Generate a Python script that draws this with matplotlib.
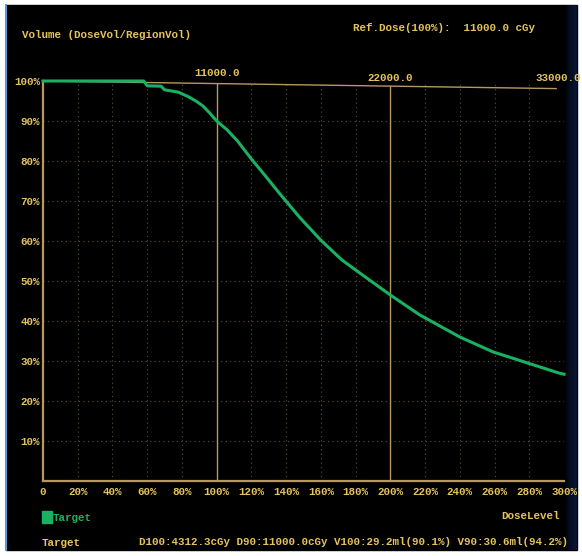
import matplotlib
matplotlib.use('Agg')
import matplotlib.pyplot as plt
from matplotlib.patches import Rectangle

# DVH curve (dose level %, volume %)
dose_level = [0, 58, 60, 68, 70, 78, 80, 84, 88, 92, 96, 100, 106, 112, 120,
              128, 136, 148, 160, 172, 184, 200, 217, 240, 259, 279, 297, 300]
volume = [100, 100, 98.8, 98.7, 97.8, 97.2, 96.8, 96, 95, 93.8, 92, 90, 87.8,
          85, 80.5, 76.3, 72, 65.8, 60.2, 55.3, 51.5, 46.5, 41.5, 36, 32.3,
          29.5, 27, 26.7]

x_ticks = list(range(0, 301, 20))
x_labels = ['0'] + ['{}%'.format(v) for v in x_ticks[1:]]
y_ticks = list(range(10, 101, 10))
y_labels = ['{}%'.format(v) for v in y_ticks]
top_ticks = [100, 200, 300]
top_labels = ['11000.0', '22000.0', '33000.0']

title_left = 'Volume (DoseVol/RegionVol)'
title_right = 'Ref.Dose(100%):  11000.0 cGy'
stats = 'D100:4312.3cGy D90:11000.0cGy V100:29.2ml(90.1%) V90:30.6ml(94.2%)'

W, H = 582, 556
txt = '#e6c35c'
axis_col = '#b89862'
grid_col = '#5e5038'
green = '#19b262'
font = dict(family='Liberation Mono', weight='bold', size=7.8)


def fx(px):
    return px / W


def fy(py):
    return 1 - py / H


fig = plt.figure(figsize=(W / 100, H / 100), dpi=100)
fig.patch.set_facecolor('white')

# black screen panel
bg = fig.add_axes([0, 0, 1, 1])
bg.set_xlim(0, W)
bg.set_ylim(H, 0)
bg.axis('off')
bg.add_patch(Rectangle((6, 5), 571, 545, color='black'))
bg.plot([5.5, 5.5], [5, 550], color='#5b9bd0', lw=1.5)
for i, a in enumerate([0.25, 0.4, 0.55, 0.7, 0.8]):
    bg.add_patch(Rectangle((566 + i * 2.2, 5), 2.2, 545, color='#0a1a40', alpha=a, lw=0))

ax = fig.add_axes([fx(43), fy(481), 521 / W, 400 / H])
ax.set_facecolor('none')
ax.set_xlim(0, 300)
ax.set_ylim(0, 100)

for s in ['top', 'right']:
    ax.spines[s].set_visible(False)
for s in ['left', 'bottom']:
    ax.spines[s].set_color(axis_col)
    ax.spines[s].set_linewidth(1.6)

# dotted grid
for y in y_ticks[:-1]:
    ax.axhline(y, color=grid_col, lw=0.8, ls=(0, (1, 3)))
for x in x_ticks[1:]:
    if x in (100, 200):
        ax.axvline(x, ymax=1 - 0.02 * x / 300, color=axis_col, lw=1.0)
    else:
        ax.axvline(x, color=grid_col, lw=0.8, ls=(0, (1, 3)))

# slightly tilted top line (photo of a screen)
ax.plot([0, 0.985], [1, 0.981], transform=ax.transAxes, color=axis_col,
        lw=1.0, clip_on=False)

ax.plot(dose_level, volume, color=green, lw=2.2, solid_joinstyle='round',
        clip_on=False, zorder=5)

ax.set_xticks(x_ticks)
ax.set_xticklabels(x_labels, color=txt, fontdict=font)
ax.set_yticks(y_ticks)
ax.set_yticklabels(y_labels, color=txt, fontdict=font)
ax.tick_params(length=0, pad=4)
ax.tick_params(axis='y', pad=2)

top_y = [102, 100.8, 100.8]
top_x = [100, 200, 310]
top_ha = ['center', 'center', 'right']
for tx, ty, lab, ha in zip(top_x, top_y, top_labels, top_ha):
    ax.text(tx, ty, lab, color=txt, ha=ha, va='center', clip_on=False, **font)

fig.text(fx(22), fy(35), title_left, color=txt, va='center', **font)
fig.text(fx(353), fy(28), title_right, color=txt, va='center', **font)

bg.add_patch(Rectangle((42, 511), 10, 12, color=green))
fig.text(fx(53), fy(518), 'Target', color=green, va='center', **font)
fig.text(fx(560), fy(516), 'DoseLevel', color=txt, va='center', ha='right', **font)
fig.text(fx(42), fy(543), 'Target', color=txt, va='center', **font)
fig.text(fx(139), fy(542), stats, color=txt, va='center', **font)

fig.savefig('out.png', dpi=100, facecolor='white')
